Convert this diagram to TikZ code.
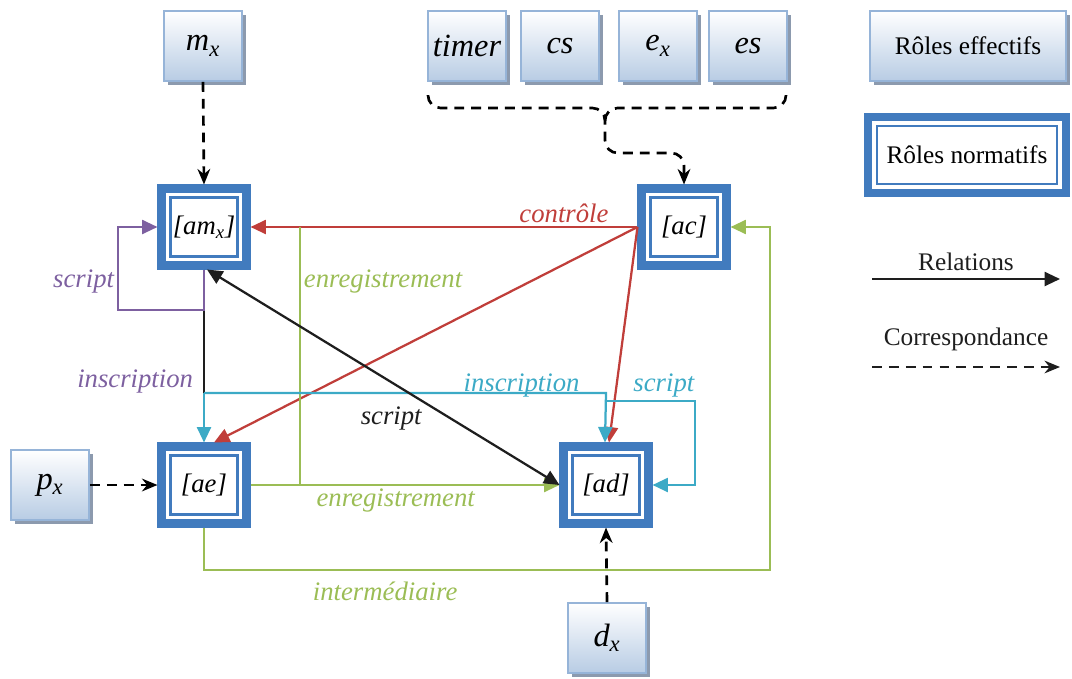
\documentclass[tikz,border=0pt]{standalone}
\usepackage{fontspec}
\setmainfont{Liberation Serif}
\usetikzlibrary{arrows.meta,shadows}

\definecolor{nblue}{RGB}{65,123,190}
\definecolor{eborder}{RGB}{150,180,216}
\definecolor{egrad}{RGB}{184,204,228}
\definecolor{eshadow}{RGB}{140,154,174}
\definecolor{cred}{RGB}{192,62,58}
\definecolor{cgreen}{RGB}{155,189,85}
\definecolor{cpurple}{RGB}{125,96,160}
\definecolor{ccyan}{RGB}{60,170,198}
\definecolor{ink}{RGB}{30,30,30}

\tikzset{
	effectif/.style={draw=eborder, line width=1.3pt, top color=white, bottom color=egrad, minimum width=1.95cm, minimum height=1.75cm, inner sep=0pt, drop shadow={shadow xshift=2.5pt, shadow yshift=-2.5pt, fill=eshadow, opacity=1}, font=\fontsize{23}{27}\selectfont\itshape},
	normatif/.style={draw=nblue, line width=6.4pt, fill=white, minimum width=2.1cm, minimum height=1.9cm, inner sep=0pt, font=\fontsize{19}{23}\selectfont\itshape},
	cadre/.style={draw=nblue, line width=1.7pt},
	lien/.style={line width=1.6pt},
	rel/.style={lien, -{Triangle[length=11pt,width=10pt]}},
	corr/.style={line width=1.9pt, dash pattern=on 7pt off 5pt, -{Stealth[length=11pt,width=9pt]}},
	lbl/.style={font=\fontsize{19}{22}\selectfont\itshape, inner sep=2pt},
	legende/.style={font=\fontsize{18}{21}\selectfont\upshape},
}

\begin{document}
\begin{tikzpicture}[x=0.025cm,y=-0.025cm]
		\useasboundingbox (0,0) rectangle (1072,678) ;

		\node[effectif] (mx) at (203,46) {m\textsubscript{x}} ;
		\node[effectif] (timer) at (467,46) {timer} ;
		\node[effectif] (cs) at (560,46) {cs} ;
		\node[effectif] (ex) at (658,46) {e\textsubscript{x}} ;
		\node[effectif] (es) at (748,46) {es} ;
		\node[effectif] (px) at (50,485) {p\textsubscript{x}} ;
		\node[effectif] (dx) at (607,638) {d\textsubscript{x}} ;
		\node[effectif, legende, minimum width=4.9cm] (elg) at (968,46) {Rôles effectifs} ;

		\node[normatif] (amx) at (204,227) {[am\textsubscript{x}]} ;
		\node[normatif] (ac) at (684,227) {[ac]} ;
		\node[normatif] (ae) at (204,485) {[ae]} ;
		\node[normatif] (ad) at (606,485) {[ad]} ;
		\node[normatif, legende, line width=5.8pt, minimum width=4.95cm, minimum height=1.9cm] (nlg) at (967,155) {Rôles normatifs} ;
		\foreach \n in {amx,ac,ae,ad,nlg}
			\draw[cadre] ([shift={(13,13)}]\n.north west) rectangle ([shift={(-13,-13)}]\n.south east) ;

		\draw[corr] (mx.south) -- (amx.north) ;
		\draw[corr] (px.east) -- (ae.west) ;
		\draw[corr] (dx.north) -- (ad.south) ;

		\coordinate (bg) at (428,95) ;
		\coordinate (bd) at (786,95) ;
		\coordinate (bm) at (605,108) ;
		\coordinate (bk) at (605,153) ;
		\draw[corr, -, rounded corners=9pt] (bd) |- (bm) -- ++(0,13) ;
		\draw[corr, rounded corners=9pt] (bg) |- (bm) -- (bk) -| (ac.north) ;

		\draw[rel, cred] (ac.west) -- (amx.east) node[lbl, pos=0.19, above, text=cred] {contrôle} ;
		\draw[rel, cred] (ac.west) -- ([shift={(10,0)}]ae.north) ;
		\draw[rel, cred] (ac.west) -- ([shift={(3,0)}]ad.north) ;

		\coordinate (eb) at (300,485) ;
		\coordinate (eh) at (300,227) ;
		\draw[lien, cgreen] (eb) -- (eh) node[lbl, pos=0.79, right, text=cgreen] {enregistrement} ;
		\draw[rel, cgreen] (ae.east) -- (ad.west) node[lbl, pos=0.47, below, text=cgreen] {enregistrement} ;

		\coordinate (im) at (770,570) ;
		\draw[rel, cgreen] (ae.south) |- node[lbl, pos=0.66, below=6pt, text=cgreen] {intermédiaire} (im) |- (ac.east) ;

		\coordinate (ij) at (204,393) ;
		\draw[lien, ink] (amx.south) -- (ij) node[lbl, pos=0.91, left=5pt, text=cpurple] {inscription} ;

		\coordinate (sb) at (204,310) ;
		\coordinate (sg) at (118,310) ;
		\draw[rel, cpurple] (amx.south) -- (sb) -- (sg) |- node[lbl, pos=0.17, left, text=cpurple] {script} (amx.west) ;

		\coordinate (ik) at (606,393) ;
		\draw[rel, ccyan] (ij) -- (ae.north) ;
		\draw[rel, ccyan] (ij) -- (ik) node[lbl, pos=0.79, above=-6pt, text=ccyan] {inscription} -- ([shift={(-1,0)}]ad.north) ;

		\coordinate (sj) at (606,401) ;
		\coordinate (sc) at (695,401) ;
		\draw[rel, ccyan] (sj) -- (sc) node[lbl, pos=0.65, above, text=ccyan] {script} |- (ad.east) ;

		\draw[lien, ink, {Triangle[length=11pt,width=10pt]}-{Triangle[length=11pt,width=10pt]}] ([shift={(3,0)}]amx.south) -- (ad.west) node[lbl, pos=0.62, below left, text=ink] {script} ;

		\coordinate (ra) at (872,279) ;
		\coordinate (rb) at (1060,279) ;
		\draw[rel, ink] (ra) -- (rb) node[legende, midway, above=2pt, text=ink] {Relations} ;
		\coordinate (ca) at (872,367) ;
		\coordinate (cb) at (1060,367) ;
		\draw[corr, ink, line width=1.6pt] (ca) -- (cb) node[legende, midway, above=7pt, text=ink] {Correspondance} ;
	\end{tikzpicture}
\end{document}
